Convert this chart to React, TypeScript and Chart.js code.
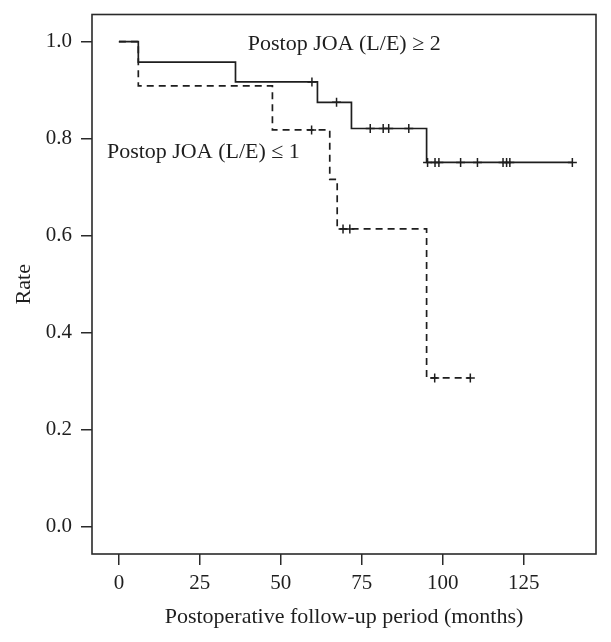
import React, { useEffect, useRef } from "react";
import { Chart, registerables } from "chart.js";

Chart.register(...registerables);

// Kaplan-Meier curve: Postop JOA (L/E) >= 2 (solid)
const solidTimes = [0, 6, 36, 61.3, 71.8, 95, 140];
const solidRates = [1.0, 0.958, 0.917, 0.875, 0.821, 0.751, 0.751];
const solidCensorTimes = [59.6, 67.2, 77.6, 81.6, 83.3, 89.5, 95.3, 97.6, 98.8, 105.5, 110.7, 118.6, 119.7, 120.7, 140];

// Kaplan-Meier curve: Postop JOA (L/E) <= 1 (dashed)
const dashedTimes = [0, 6, 47.4, 65.1, 67.4, 95, 108.5];
const dashedRates = [1.0, 0.909, 0.818, 0.716, 0.614, 0.307, 0.307];
const dashedCensorTimes = [59.5, 69.2, 71.3, 97.5, 108.5];

// Axes
const xTicks = [0, 25, 50, 75, 100, 125];
const yTicks = [0, 0.2, 0.4, 0.6, 0.8, 1.0];
const xTitle = "Postoperative follow-up period (months)";
const yTitle = "Rate";

// In-plot curve labels (anchored in data coordinates)
const curveLabels = ["Postop JOA (L/E) \u2265 2", "Postop JOA (L/E) \u2264 1"];
const curveLabelX = [39.8, -3.7];
const curveLabelY = [0.983, 0.76];

const FONT = "'Liberation Serif', 'DejaVu Serif', serif";
const INK = "#1e1e1e";

function rateAt(times: number[], rates: number[], t: number): number {
  let r = rates[0];
  for (let i = 0; i < times.length; i++) {
    if (times[i] <= t) r = rates[i];
  }
  return r;
}

const toPts = (xs: number[], ys: number[]) => xs.map((x, i) => ({ x, y: ys[i] }));

const boxAndLabels = {
  id: "boxAndLabels",
  afterDatasetsDraw(chart: any) {
    const { ctx, chartArea, scales } = chart;
    const { left, top, right, bottom } = chartArea;
    ctx.save();
    ctx.strokeStyle = "#2a2a2a";
    ctx.lineWidth = 1.6;
    ctx.setLineDash([]);
    ctx.strokeRect(left, top, right - left, bottom - top);
    ctx.font = `22px ${FONT}`;
    ctx.fillStyle = INK;
    ctx.textAlign = "left";
    ctx.textBaseline = "alphabetic";
    curveLabels.forEach((txt, i) => {
      ctx.fillText(txt, scales.x.getPixelForValue(curveLabelX[i]), scales.y.getPixelForValue(curveLabelY[i]));
    });
    ctx.restore();
  },
};

export default function App() {
  const ref = useRef<HTMLCanvasElement | null>(null);

  useEffect(() => {
    if (!ref.current) return;
    const chart = new Chart(ref.current, {
      type: "line",
      data: {
        datasets: [
          {
            data: toPts(solidTimes, solidRates),
            borderColor: INK,
            borderWidth: 1.7,
            stepped: "before",
            pointRadius: 0,
            fill: false,
          },
          {
            data: toPts(dashedTimes, dashedRates),
            borderColor: INK,
            borderWidth: 1.7,
            borderDash: [7, 5],
            stepped: "before",
            pointRadius: 0,
            fill: false,
          },
          {
            data: solidCensorTimes.map((t) => ({ x: t, y: rateAt(solidTimes, solidRates, t) })),
            showLine: false,
            pointStyle: "cross",
            pointRadius: 4.5,
            pointBorderWidth: 1.5,
            pointBorderColor: INK,
            borderColor: INK,
          },
          {
            data: dashedCensorTimes.map((t) => ({ x: t, y: rateAt(dashedTimes, dashedRates, t) })),
            showLine: false,
            pointStyle: "cross",
            pointRadius: 4.5,
            pointBorderWidth: 1.5,
            pointBorderColor: INK,
            borderColor: INK,
          },
        ],
      },
      options: {
        animation: false,
        responsive: false,
        devicePixelRatio: 1,
        layout: { padding: { left: 0, top: 14.5, right: 15, bottom: 0 } },
        plugins: { legend: { display: false }, tooltip: { enabled: false } },
        scales: {
          x: {
            type: "linear",
            min: -8.3,
            max: 147.3,
            afterFit: (s: any) => {
              s.height = 88;
              s.paddingLeft = 0;
              s.paddingRight = 0;
            },
            afterBuildTicks: (s: any) => {
              s.ticks = xTicks.map((v) => ({ value: v }));
            },
            border: { display: false },
            grid: { drawOnChartArea: false, drawTicks: true, tickLength: 11, tickColor: "#2a2a2a", lineWidth: 1.5 },
            ticks: { color: INK, font: { family: FONT, size: 21 }, padding: 6, maxRotation: 0 },
            title: { display: true, text: xTitle, color: INK, font: { family: FONT, size: 22 }, padding: { top: 0, bottom: 12 } },
          },
          y: {
            type: "linear",
            min: -0.056,
            max: 1.056,
            afterFit: (s: any) => {
              s.width = 92;
              s.paddingTop = 0;
              s.paddingBottom = 0;
            },
            afterBuildTicks: (s: any) => {
              s.ticks = yTicks.map((v) => ({ value: v }));
            },
            border: { display: false },
            grid: { drawOnChartArea: false, drawTicks: true, tickLength: 11, tickColor: "#2a2a2a", lineWidth: 1.5 },
            ticks: { color: INK, font: { family: FONT, size: 21 }, padding: 9, callback: (v: any) => Number(v).toFixed(1) },
            title: { display: true, text: yTitle, color: INK, font: { family: FONT, size: 22 }, padding: { top: 11, bottom: 0 } },
          },
        },
      },
      plugins: [boxAndLabels],
    } as any);
    return () => chart.destroy();
  }, []);

  return (
    <div style={{ position: "absolute", left: 0, top: 0, width: 611, height: 642, background: "#fff" }}>
      <canvas ref={ref} width={611} height={642} style={{ display: "block" }} />
    </div>
  );
}
